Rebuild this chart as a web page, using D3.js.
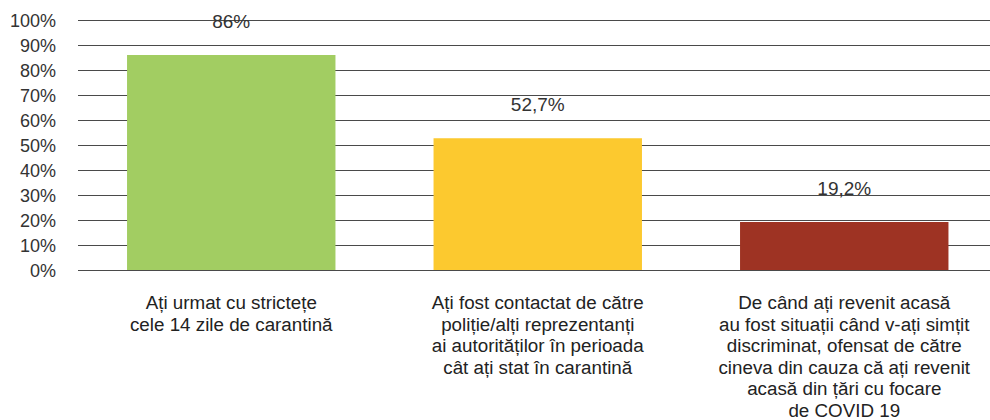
<!DOCTYPE html>
<html>
<head>
<meta charset="utf-8">
<script src="https://cdn.jsdelivr.net/npm/d3@7"></script>
<style>
  html, body { margin: 0; padding: 0; background: #fff; }
  svg { display: block; font-family: "Liberation Sans", Arial, Helvetica, sans-serif; }
</style>
</head>
<body>
<svg id="chart" width="990" height="420"></svg>
<script>
// Survey answers (share of respondents answering "yes")
const categories = [
  ["Ați urmat cu strictețe", "cele 14 zile de carantină"],
  ["Ați fost contactat de către", "poliție/alți reprezentanți", "ai autorităților în perioada", "cât ați stat în carantină"],
  ["De când ați revenit acasă", "au fost situații când v-ați simțit", "discriminat, ofensat de către", "cineva din cauza că ați revenit", "acasă din țări cu focare", "de COVID 19"]
];
const values = [0.86, 0.527, 0.192];
const valueLabels = ["86%", "52,7%", "19,2%"];
const barColors = ["#a2cd62", "#fcc92f", "#9e3323"];
const yTicks = [0, 0.1, 0.2, 0.3, 0.4, 0.5, 0.6, 0.7, 0.8, 0.9, 1.0];
const yTickLabels = ["0%", "10%", "20%", "30%", "40%", "50%", "60%", "70%", "80%", "90%", "100%"];

const svg = d3.select("#chart");
const plot = { left: 78, right: 997.5, top: 20, bottom: 270 };

const keys = categories.map((c, i) => i);
const x = d3.scaleBand()
  .domain(keys)
  .range([plot.left, plot.right])
  .paddingInner(0.32)
  .paddingOuter(0.16);

const y = d3.scaleLinear()
  .domain([0, 1])
  .range([plot.bottom, plot.top]);

// Horizontal gridlines
svg.append("g")
  .selectAll("line")
  .data(yTicks)
  .join("line")
  .attr("x1", plot.left)
  .attr("x2", 990)
  .attr("y1", d => Math.round(y(d)) + 0.5)
  .attr("y2", d => Math.round(y(d)) + 0.5)
  .attr("stroke", "#4a4a4a")
  .attr("stroke-width", 1);

// Y axis labels
const yAxis = d3.axisLeft(y)
  .tickValues(yTicks)
  .tickFormat((d, i) => yTickLabels[i])
  .tickSize(0)
  .tickPadding(0);

const gy = svg.append("g")
  .attr("transform", "translate(56,0)")
  .call(yAxis);
gy.select(".domain").remove();
gy.selectAll("text")
  .attr("font-size", 18)
  .attr("fill", "#333")
  .attr("font-family", "'Liberation Sans', Arial, sans-serif")
  .attr("dy", "0.36em");

// Bars
svg.append("g")
  .selectAll("rect")
  .data(values)
  .join("rect")
  .attr("x", (d, i) => x(i))
  .attr("width", x.bandwidth())
  .attr("y", d => y(d))
  .attr("height", d => y(0) - y(d))
  .attr("fill", (d, i) => barColors[i]);

// Value labels above bars
svg.append("g")
  .selectAll("text")
  .data(values)
  .join("text")
  .attr("x", (d, i) => x(i) + x.bandwidth() / 2)
  .attr("y", d => y(d) - 27.5)
  .attr("text-anchor", "middle")
  .attr("font-size", 19)
  .attr("fill", "#333")
  .text((d, i) => valueLabels[i]);

// Category labels below the axis
const cat = svg.append("g")
  .selectAll("text")
  .data(categories)
  .join("text")
  .attr("x", (d, i) => x(i) + x.bandwidth() / 2)
  .attr("y", 309)
  .attr("text-anchor", "middle")
  .attr("font-size", 18.8)
  .attr("fill", "#222");

cat.selectAll("tspan")
  .data(d => d)
  .join("tspan")
  .attr("x", function () { return d3.select(this.parentNode).attr("x"); })
  .attr("dy", (d, j) => j === 0 ? 0 : 21.6)
  .text(d => d);
</script>
</body>
</html>
